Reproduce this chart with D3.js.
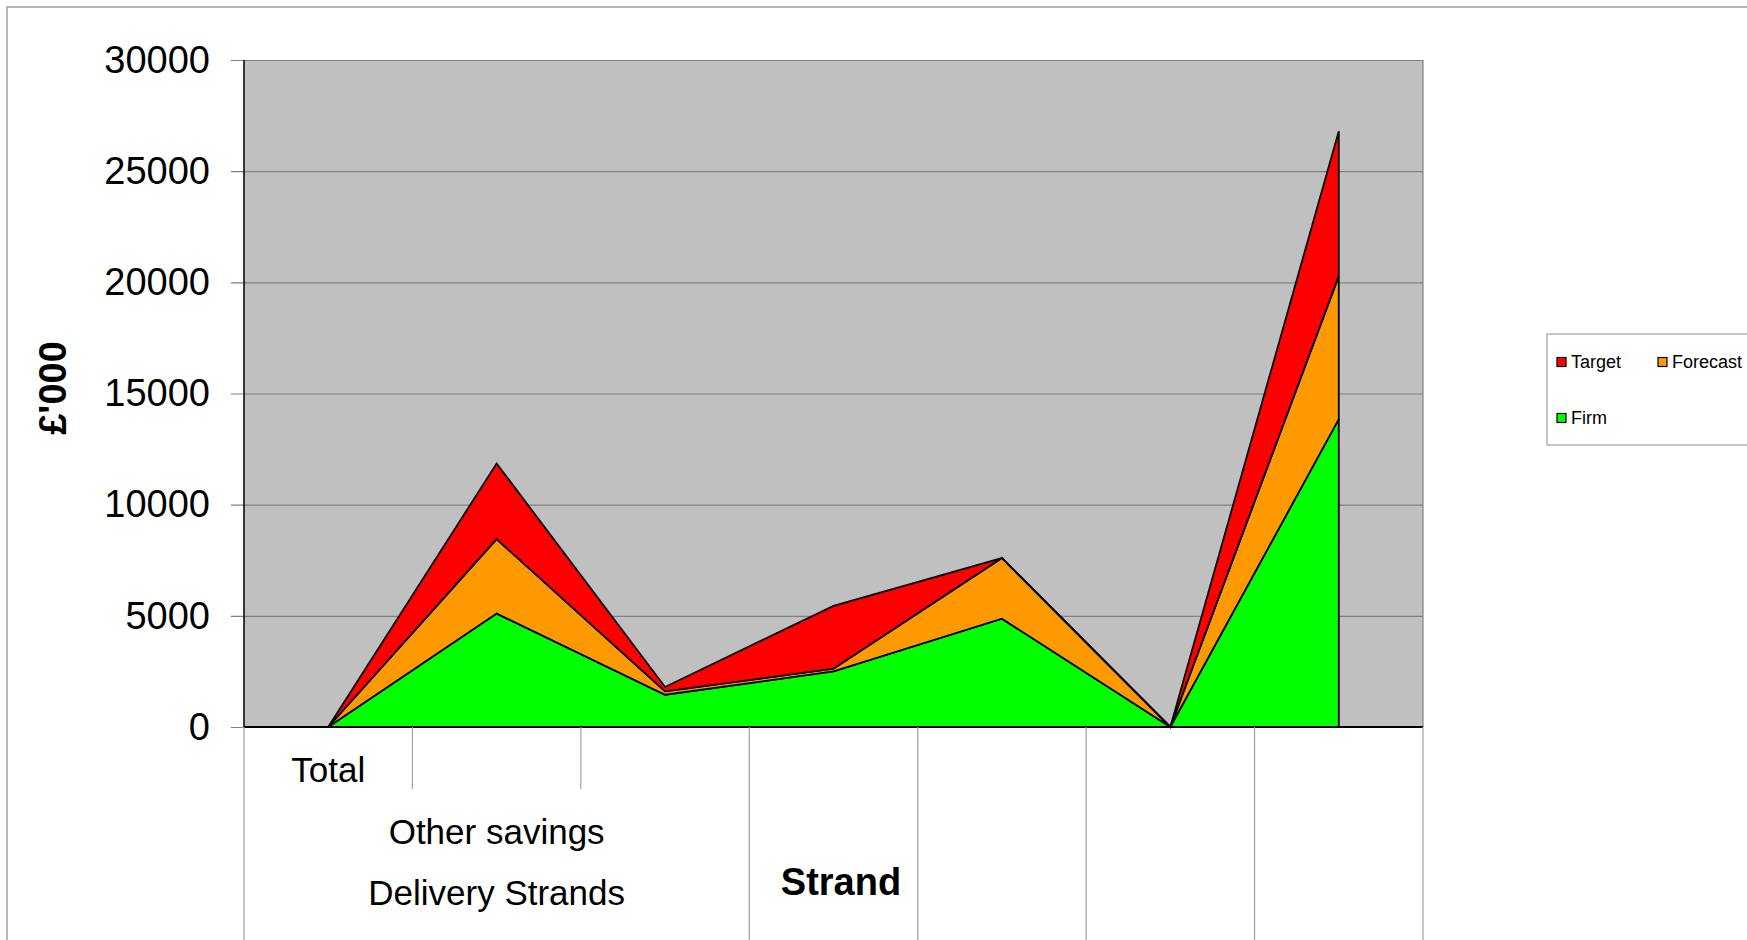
<!DOCTYPE html>
<html>
<head>
<meta charset="utf-8">
<script src="https://cdn.jsdelivr.net/npm/d3@7"></script>
<style>
  body { margin: 0; background: #fff; }
  svg { display: block; font-family: "Liberation Sans", Arial, sans-serif; }
</style>
</head>
<body>
<div id="chart"></div>
<script>
// Chart data
const categories = ["Total", "", "", "", "", "", ""];
const groupLabels = ["Other savings", "Delivery Strands"];
const groupSpan = 3; // first three categories share the outer labels
const firm = [0, 5100, 1450, 2500, 4870, 0, 13850];
const forecast = [0, 3350, 150, 120, 2730, 0, 6430];
const target = [0, 3400, 200, 2830, 0, 0, 6520];
const seriesKeys = ["Firm", "Forecast", "Target"];
const seriesColours = ["#00FF00", "#FF9900", "#FF0000"];
const yTicks = [0, 5000, 10000, 15000, 20000, 25000, 30000];

const width = 1747, height = 940;
const margin = { top: 60, right: 324, bottom: 213, left: 244 };
const innerWidth = width - margin.left - margin.right;
const innerHeight = height - margin.top - margin.bottom;

const rows = categories.map((c, i) => ({
    index: i, Firm: firm[i], Forecast: forecast[i], Target: target[i]
}));

const svg = d3.select("#chart")
    .append("svg")
    .attr("width", width)
    .attr("height", height);

// Outer chart border
svg.append("path")
    .attr("d", `M7,${height} V7 H${width}`)
    .attr("fill", "none")
    .attr("stroke", "#a0a0a0")
    .attr("stroke-width", 1.5);

const g = svg.append("g")
    .attr("transform", "translate(" + margin.left + "," + margin.top + ")");

// Scales
const xScale = d3.scaleBand()
    .domain(d3.range(categories.length))
    .range([0, innerWidth])
    .paddingInner(0)
    .paddingOuter(0);

const yScale = d3.scaleLinear()
    .domain([0, 30000])
    .range([innerHeight, 0]);

const xMid = i => xScale(i) + xScale.bandwidth() / 2;

// Plot area
g.append("rect")
    .attr("width", innerWidth)
    .attr("height", innerHeight)
    .attr("fill", "#c0c0c0");

// Gridlines (with the short ticks left of the axis)
g.append("g")
    .attr("transform", "translate(" + innerWidth + ",0)")
    .call(d3.axisLeft(yScale).tickValues(yTicks).tickSize(innerWidth + 13).tickFormat(""))
    .call(s => s.select(".domain").remove())
    .call(s => s.selectAll("text").remove())
    .selectAll("line")
    .attr("stroke", "#808080")
    .attr("stroke-width", 1.2);

// Y tick labels
g.append("g")
    .call(d3.axisLeft(yScale).tickValues(yTicks).tickSize(0).tickPadding(34).tickFormat(d3.format("d")))
    .call(s => s.select(".domain").remove())
    .selectAll("text")
    .attr("font-size", 38)
    .attr("font-family", "Liberation Sans, Arial, sans-serif")
    .attr("fill", "#000");

// Right edge of plot
g.append("line")
    .attr("x1", innerWidth).attr("x2", innerWidth)
    .attr("y1", 0).attr("y2", innerHeight)
    .attr("stroke", "#808080")
    .attr("stroke-width", 1.2);

// Stacked areas
const stacked = d3.stack().keys(seriesKeys)(rows);
const colour = d3.scaleOrdinal().domain(seriesKeys).range(seriesColours);

const area = d3.area()
    .x(d => xMid(d.data.index))
    .y0(d => yScale(d[0]))
    .y1(d => yScale(d[1]));

g.append("g")
    .selectAll("path")
    .data(stacked)
    .enter()
    .append("path")
    .attr("d", area)
    .attr("fill", d => colour(d.key))
    .attr("stroke", "#000")
    .attr("stroke-width", 1.8)
    .attr("stroke-linejoin", "miter");

// Left axis line and zero line
g.append("line")
    .attr("x1", 0).attr("x2", 0)
    .attr("y1", 0).attr("y2", innerHeight)
    .attr("stroke", "#000").attr("stroke-width", 1.5);
g.append("line")
    .attr("x1", 0).attr("x2", innerWidth)
    .attr("y1", innerHeight).attr("y2", innerHeight)
    .attr("stroke", "#000").attr("stroke-width", 1.8);

// Category axis dividers
const boundaries = d3.range(categories.length + 1);
g.append("g")
    .selectAll("line")
    .data(boundaries)
    .enter()
    .append("line")
    .attr("x1", i => i < categories.length ? xScale(i) : innerWidth)
    .attr("x2", i => i < categories.length ? xScale(i) : innerWidth)
    .attr("y1", innerHeight)
    .attr("y2", i => (i > 0 && i < groupSpan) ? innerHeight + 62 : height)
    .attr("stroke", "#a0a0a0")
    .attr("stroke-width", 1.2);

// Category labels (level 1), blank ones skipped
g.append("g")
    .selectAll("text")
    .data(categories.map((c, i) => ({ c, i })).filter(d => d.c !== ""))
    .enter()
    .append("text")
    .attr("x", d => xMid(d.i))
    .attr("y", innerHeight + 42)
    .attr("text-anchor", "middle")
    .attr("dominant-baseline", "central")
    .attr("font-size", 35)
    .text(d => d.c);

// Outer group labels
const groupCentre = (xScale(0) + xScale(groupSpan)) / 2;
g.append("g")
    .selectAll("text")
    .data(groupLabels)
    .enter()
    .append("text")
    .attr("x", groupCentre)
    .attr("y", (d, i) => innerHeight + 104 + i * 61)
    .attr("text-anchor", "middle")
    .attr("dominant-baseline", "central")
    .attr("font-size", 35)
    .text(d => d);

// Axis titles
g.append("text")
    .attr("x", 597)
    .attr("y", innerHeight + 155)
    .attr("text-anchor", "middle")
    .attr("dominant-baseline", "central")
    .attr("font-size", 38)
    .attr("font-weight", "bold")
    .text("Strand");

svg.append("text")
    .attr("transform", "translate(53,388) rotate(-90)")
    .attr("text-anchor", "middle")
    .attr("dominant-baseline", "central")
    .attr("font-size", 38)
    .attr("font-weight", "bold")
    .text("£'000");

// Legend
const legend = svg.append("g").attr("transform", "translate(1547,334)");
legend.append("rect")
    .attr("width", 230)
    .attr("height", 111)
    .attr("fill", "#fff")
    .attr("stroke", "#a0a0a0")
    .attr("stroke-width", 1.2);

const legendOrder = ["Target", "Forecast", "Firm"];
const legendItems = legend.selectAll("g.item")
    .data(legendOrder)
    .enter()
    .append("g")
    .attr("class", "item")
    .attr("transform", (d, i) => "translate(" + (10 + (i % 2) * 101) + "," + (28 + Math.floor(i / 2) * 56) + ")");

legendItems.append("rect")
    .attr("x", 0).attr("y", -4.5)
    .attr("width", 9).attr("height", 9)
    .attr("fill", d => colour(d))
    .attr("stroke", "#000")
    .attr("stroke-width", 1.2);

legendItems.append("text")
    .attr("x", 14)
    .attr("y", 0)
    .attr("dominant-baseline", "central")
    .attr("font-size", 18)
    .text(d => d);
</script>
</body>
</html>
